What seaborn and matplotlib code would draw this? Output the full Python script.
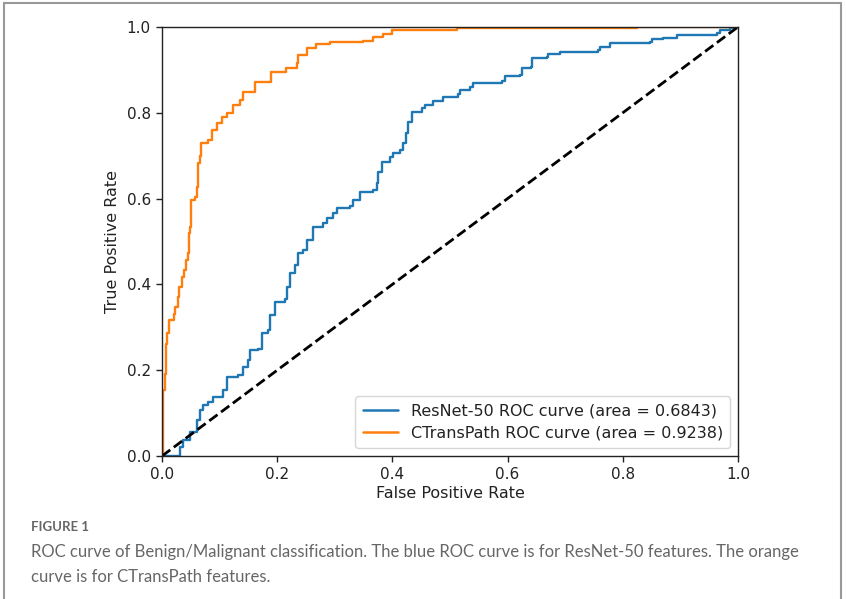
import matplotlib
matplotlib.use("Agg")
import matplotlib.pyplot as plt
import seaborn as sns
import pandas as pd
from matplotlib.patches import Rectangle

# ROC points (fpr where the step rises, tpr after the rise)
ctrans_fpr = [0.0, 0.002, 0.005, 0.007, 0.009, 0.012, 0.020, 0.023, 0.027, 0.030,
              0.035, 0.038, 0.041, 0.045, 0.047, 0.049, 0.051, 0.057, 0.061, 0.063,
              0.066, 0.068, 0.080, 0.086, 0.095, 0.104, 0.112, 0.124, 0.135, 0.141,
              0.161, 0.190, 0.216, 0.234, 0.236, 0.251, 0.268, 0.292, 0.349, 0.367,
              0.384, 0.399, 0.512, 0.825, 1.0]
ctrans_tpr = [0.0, 0.154, 0.190, 0.260, 0.287, 0.317, 0.330, 0.347, 0.370, 0.394,
              0.417, 0.433, 0.457, 0.473, 0.520, 0.534, 0.597, 0.604, 0.627, 0.683,
              0.700, 0.730, 0.737, 0.760, 0.776, 0.790, 0.800, 0.818, 0.830, 0.849,
              0.872, 0.895, 0.905, 0.916, 0.935, 0.951, 0.960, 0.965, 0.967, 0.977,
              0.984, 0.993, 0.998, 1.0, 1.0]

resnet_fpr = [0.0, 0.031, 0.036, 0.049, 0.060, 0.066, 0.071, 0.080, 0.089, 0.106,
              0.113, 0.132, 0.141, 0.149, 0.153, 0.167, 0.174, 0.184, 0.188, 0.196,
              0.214, 0.217, 0.222, 0.231, 0.236, 0.245, 0.252, 0.262, 0.280, 0.286,
              0.297, 0.304, 0.326, 0.332, 0.344, 0.366, 0.373, 0.375, 0.382, 0.396,
              0.401, 0.413, 0.418, 0.424, 0.427, 0.434, 0.451, 0.457, 0.470, 0.488,
              0.514, 0.517, 0.535, 0.540, 0.590, 0.595, 0.621, 0.625, 0.640, 0.642,
              0.668, 0.670, 0.691, 0.757, 0.760, 0.778, 0.847, 0.850, 0.870, 0.894,
              0.964, 0.969, 0.986, 0.995, 1.0]
resnet_tpr = [0.0, 0.020, 0.037, 0.056, 0.084, 0.107, 0.119, 0.125, 0.138, 0.154,
              0.184, 0.189, 0.207, 0.224, 0.247, 0.250, 0.287, 0.294, 0.329, 0.359,
              0.365, 0.394, 0.427, 0.445, 0.473, 0.480, 0.503, 0.534, 0.543, 0.555,
              0.566, 0.578, 0.582, 0.597, 0.615, 0.620, 0.636, 0.662, 0.685, 0.697,
              0.706, 0.713, 0.730, 0.753, 0.779, 0.802, 0.810, 0.818, 0.828, 0.837,
              0.843, 0.853, 0.860, 0.870, 0.874, 0.886, 0.888, 0.904, 0.906, 0.928,
              0.930, 0.937, 0.942, 0.946, 0.953, 0.963, 0.965, 0.972, 0.975, 0.981,
              0.986, 0.993, 0.998, 1.0, 1.0]

model_names = ["ResNet-50 ROC curve (area = 0.6843)",
               "CTransPath ROC curve (area = 0.9238)"]
caption_head = "FIGURE 1"
caption_text = ("ROC curve of Benign/Malignant classification. The blue ROC curve is for ResNet-50 features. The orange\n"
                "curve is for CTransPath features.")


def main():
    sns.set_style("ticks")
    plt.rcParams['font.family'] = ['DejaVu Sans']

    df = pd.concat([
        pd.DataFrame({"fpr": resnet_fpr, "tpr": resnet_tpr, "model": model_names[0]}),
        pd.DataFrame({"fpr": ctrans_fpr, "tpr": ctrans_tpr, "model": model_names[1]}),
    ], ignore_index=True)

    fig = plt.figure(figsize=(8.46, 5.99), dpi=100)
    ax = fig.add_axes([0.1915, 0.2387, 0.6808, 0.7163])

    sns.lineplot(data=df, x="fpr", y="tpr", hue="model", ax=ax,
                 palette=["#1f77b4", "#ff7f0e"], estimator=None, sort=False,
                 drawstyle="steps-post", linewidth=1.7)
    ax.plot([0, 1], [0, 1], color="black", linestyle="--", linewidth=2)

    ax.set_xlim(0, 1)
    ax.set_ylim(0, 1)
    ax.set_xticks([0, 0.2, 0.4, 0.6, 0.8, 1.0])
    ax.set_yticks([0, 0.2, 0.4, 0.6, 0.8, 1.0])
    ax.set_xlabel("False Positive Rate", fontsize=11.5, color="#222222", labelpad=3)
    ax.set_ylabel("True Positive Rate", fontsize=11.5, color="#222222", labelpad=5)
    ax.tick_params(labelsize=11, colors="#222222", length=4.5, width=1)
    for s in ax.spines.values():
        s.set_visible(True)
        s.set_color("#222222")
        s.set_linewidth(1)

    leg = ax.legend(loc="lower right", fontsize=11.5, frameon=True,
                    handlelength=2.2, borderpad=0.45, labelspacing=0.45)
    leg.get_frame().set_edgecolor("#cccccc")
    for line in leg.get_lines():
        line.set_linewidth(1.8)
    for t in leg.get_texts():
        t.set_color("#222222")

    # caption under the plot
    fig.text(31 / 846, 1 - 527 / 599, caption_head, fontsize=9.5, color="#666666",
             family="Lato", fontweight="bold", va="center", ha="left")
    fig.text(31 / 846, 1 - 564.5 / 599, caption_text, fontsize=12, color="#666666",
             family="Lato", va="center", ha="left", linespacing=1.66)

    # outer frame of the figure panel
    fig.patches.append(Rectangle((4 / 846, -0.01), 837 / 846, 1 - 3 / 599 + 0.01,
                                 transform=fig.transFigure, fill=False,
                                 edgecolor="#999999", linewidth=1.5))

    fig.savefig("out.png", dpi=100)


if __name__ == "__main__":
    main()
